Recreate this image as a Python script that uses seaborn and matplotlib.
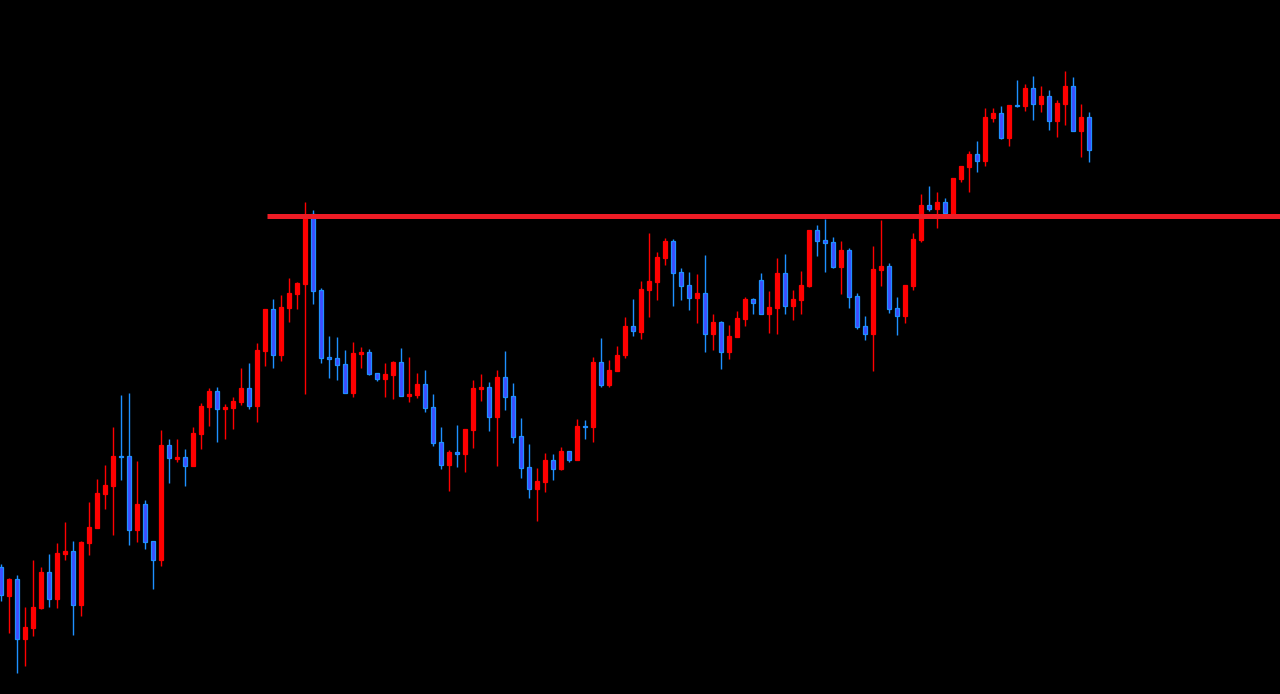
import numpy as np
import pandas as pd
import matplotlib
matplotlib.use("Agg")
import matplotlib.pyplot as plt
import seaborn as sns

# ---- data (price) ----
opens = [127, 98, 115, 55, 66, 86, 122, 95, 140.5, 143, 89, 151, 166, 200, 208, 238, 238, 164, 190, 153,
         134, 249, 235.5, 237, 228, 260, 287, 303, 285.3, 286, 292, 306, 288, 343, 385, 339, 386, 400, 410, 480,
         404, 336.7, 336, 330, 301, 340.3, 342, 321, 315, 319, 332, 298.3, 299, 310, 287, 252, 229, 241.7, 240, 264,
         305.3, 307, 277, 317, 298, 258, 227, 205, 212, 234, 225, 243, 234, 268, 267, 332, 309, 323, 339, 368,
         362, 404, 412, 436, 453, 422, 409, 396, 401, 360, 372, 342, 357, 375, 395, 414, 380, 386, 421, 388,
         394, 408, 464, 454, 452, 427, 444, 398, 368, 360, 424, 428, 386, 378, 408, 454, 489, 485, 492, 480,
         515, 527, 540, 533, 576, 581, 556, 589, 588, 606, 590, 598, 573, 590, 608, 563, 577]
highs = [130, 116, 119, 87, 134, 127, 140, 151, 172, 153, 153, 192, 215, 229, 267, 299, 301, 233, 194, 153,
         264, 255, 255, 245, 267, 291, 306, 307, 290, 297, 326, 331, 351, 385, 395, 399, 416, 412, 492, 484,
         406, 358, 357, 344, 352, 347, 345, 321, 331, 333, 346, 337, 321, 324, 300, 267, 244, 269, 265, 314,
         320, 312, 324, 343, 311, 276, 250, 226, 241, 240, 247, 243, 275, 274, 337, 356, 334, 348, 377, 395,
         413, 461, 442, 456, 455, 426, 422, 420, 439, 380, 373, 369, 383, 397, 396, 421, 403, 436, 440, 404,
         423, 464, 469, 475, 457, 453, 446, 401, 378, 448, 474, 431, 397, 409, 461, 500, 508, 502, 496, 516,
         528, 543, 553, 586, 586, 588, 589, 614, 610, 618, 608, 604, 594, 623, 617, 590, 582]
lows = [93, 61, 21, 28, 58, 85, 87, 86, 134, 59, 78, 139, 166, 185, 159, 214, 149, 152, 145, 105,
        128, 211, 232, 208, 228, 245, 268, 252, 255, 265, 289, 285, 272, 328, 326, 333, 372, 385, 300, 390,
        331, 316, 314, 301, 297, 326, 319, 313, 297, 295, 298, 292, 296, 282, 248, 225, 203, 227, 222, 246,
        293, 263, 228, 284, 251, 216, 196, 173, 202, 214, 224, 232, 234, 255, 252, 307, 307, 323, 336, 358,
        355, 377, 394, 429, 388, 394, 384, 371, 342, 344, 325, 335, 357, 368, 380, 380, 361, 360, 380, 374,
        380, 407, 438, 422, 426, 400, 386, 365, 354, 323, 408, 381, 359, 371, 404, 452, 483, 466, 479, 479,
        512, 502, 522, 528, 572, 555, 548, 587, 583, 574, 582, 564, 557, 569, 563, 537, 532]
closes = [99, 115, 55, 67, 87, 122, 95, 141, 143, 89, 152, 167, 201, 209, 238, 237, 164, 190, 152, 134,
          249, 236, 237.3, 228, 261, 288, 303, 285, 287, 293, 306, 288, 344, 385, 339, 387, 401, 411, 479, 403,
          336, 335.3, 329, 301, 341, 342, 320, 315, 320, 332, 298, 300.3, 310, 286, 251, 229, 242, 240.3, 265, 306,
          307, 277, 317, 297, 257, 226, 205, 213, 234, 225, 243, 234, 268, 267, 332, 309, 324, 339, 368, 363,
          405, 413, 437, 453, 421, 408, 396, 401, 360, 372, 342, 358, 376, 395, 391, 380, 387, 421, 388, 395,
          409, 464, 453, 451, 427, 444, 397, 367, 360, 425, 428, 385, 378, 409, 455, 489, 485, 492, 481, 516,
          528, 540, 533, 577, 581, 556, 589, 588, 606, 590, 598, 573, 591, 608, 563, 577, 544]
resistance_level = 478.5
resistance_start = 33.3

# ---- styling ----
BG = "#000000"
UP_COLOR = "#ff0000"
DOWN_FILL = "#3f4cff"
DOWN_EDGE = "#1e90ff"
LEVEL_COLOR = "#ee1c25"

sns.set_theme(style="dark", rc={"figure.facecolor": BG, "axes.facecolor": BG,
                                "savefig.facecolor": BG})

df = pd.DataFrame({"open": opens, "high": highs, "low": lows, "close": closes})
df["idx"] = np.arange(len(df))
df["up"] = df["close"] >= df["open"]
df["body_bottom"] = df[["open", "close"]].min(axis=1)
df["body_height"] = (df["close"] - df["open"]).abs()

fig = plt.figure(figsize=(12.8, 6.94), dpi=100)
ax = fig.add_axes([0, 0, 1, 1])
ax.set_facecolor(BG)

wick_colors = np.where(df["up"], UP_COLOR, DOWN_EDGE)
ax.vlines(df["idx"], df["low"], df["high"], colors=wick_colors, linewidth=1.0, zorder=2)

fills = np.where(df["up"], UP_COLOR, DOWN_FILL)
edges = np.where(df["up"], UP_COLOR, DOWN_EDGE)
ax.bar(df["idx"], df["body_height"], bottom=df["body_bottom"], width=0.5,
       color=fills, edgecolor=edges, linewidth=0.9, zorder=3)

x_min = -0.0625
x_max = x_min + 1280 / 8
ax.hlines(resistance_level, resistance_start, x_max, colors=LEVEL_COLOR, linewidth=3.6, zorder=4)

ax.set_xlim(x_min, x_max)
ax.set_ylim(0, 694)
ax.set_axis_off()

fig.savefig("out.png", dpi=100, facecolor=BG)
